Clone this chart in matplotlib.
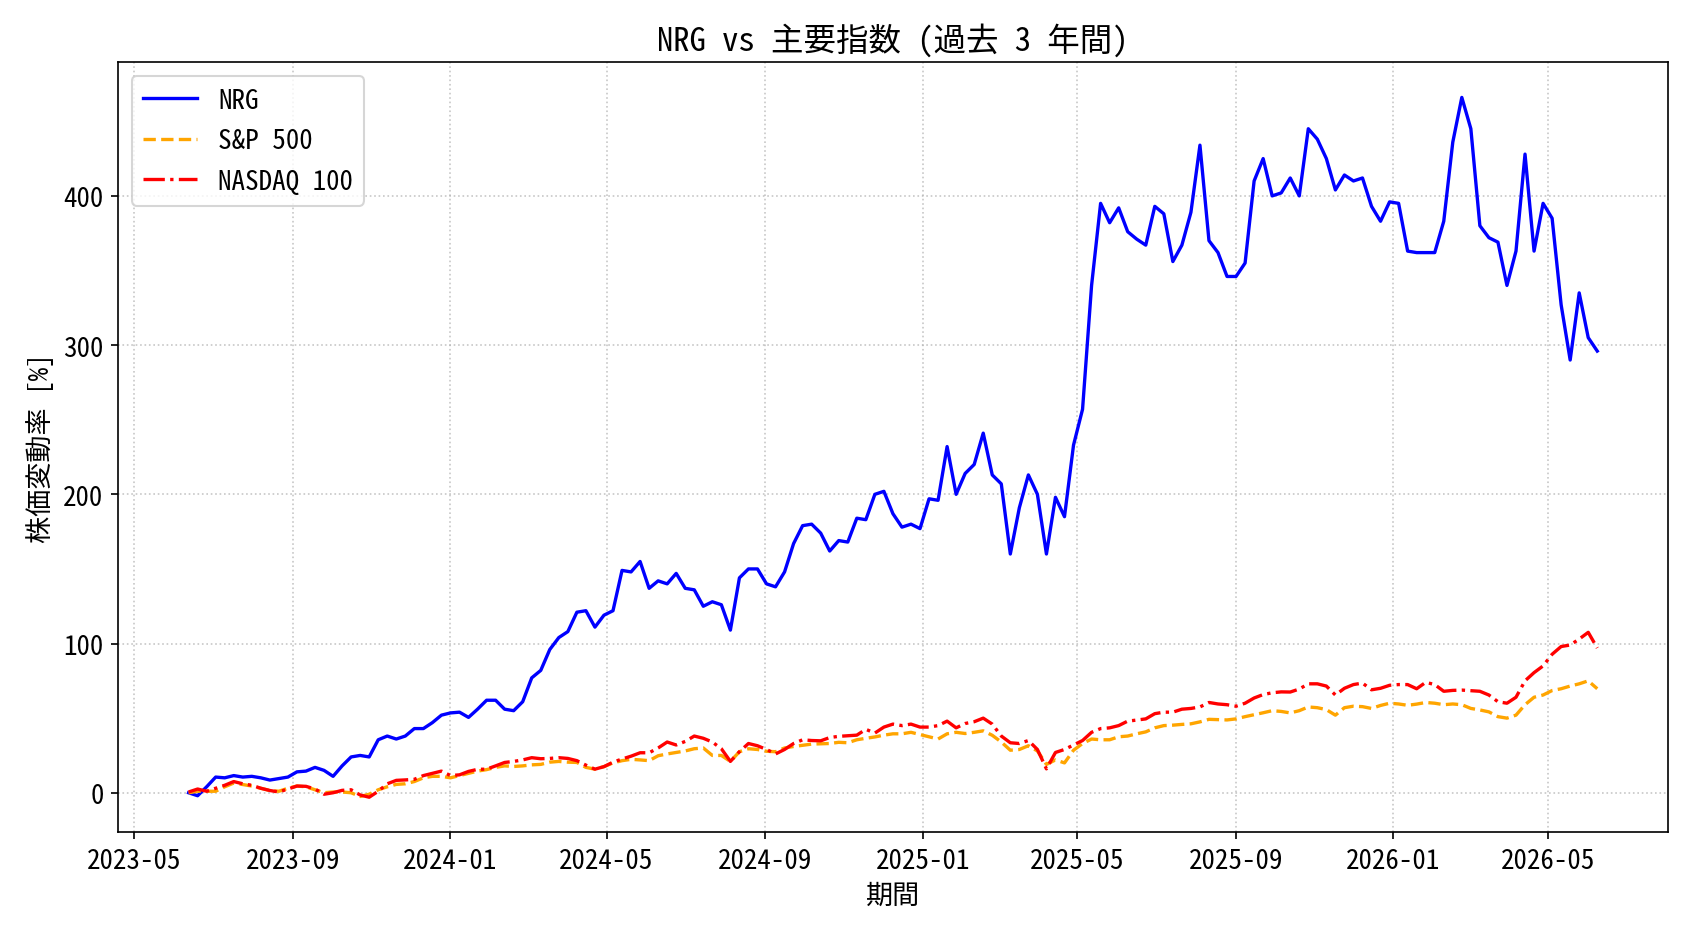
import matplotlib
matplotlib.use("Agg")
import matplotlib.pyplot as plt
import matplotlib.dates as mdates
import pandas as pd

plt.rcParams['font.family'] = ['Noto Sans Mono CJK JP', 'Noto Sans CJK JP', 'DejaVu Sans']
plt.rcParams['font.size'] = 13

# weekly samples (cumulative % change since start)
dates = pd.date_range("2023-06-12", periods=157, freq="7D")

nrg = [
    0, -2, 4, 10.5, 10, 11.5, 10.5, 11, 10, 8.5,
    9.5, 10.5, 14, 14.5, 17, 15, 11, 18, 24, 25,
    24, 35.5, 38, 36, 38, 43, 43, 47, 52, 53.5,
    54, 50.5, 56, 62, 62, 56, 55, 61, 77, 82,
    96, 104, 108, 121, 122, 111, 119, 122, 149, 148,
    155, 137, 142, 140, 147, 137, 136, 125, 128, 126,
    109, 144, 150, 150, 140, 138, 148, 167, 179, 180,
    174, 162, 169, 168, 184, 183, 200, 202, 187, 178,
    180, 177, 197, 196, 232, 200, 214, 220, 241, 213,
    207, 160, 191, 213, 200, 160, 198, 185, 233, 257,
    340, 395, 382, 392, 376, 371, 367, 393, 388, 356,
    367, 389, 434, 370, 362, 346, 346, 355, 410, 425,
    400, 402, 412, 400, 445, 438, 425, 404, 414, 410,
    412, 393, 383, 396, 395, 363, 362, 362, 362, 383,
    436, 466, 445, 380, 372, 369, 340, 363, 428, 363,
    395, 385, 327, 290, 335, 305, 296,
]

sp500 = [
    0, 1, 1, 1, 4, 6.5, 5.5, 4.5, 3, 1.5,
    1, 3, 4.5, 4, 2, 0, 0.5, 0.5, 0, -2.5,
    -1, 2, 4, 5.6, 6, 7.5, 10, 11, 11, 10,
    11.5, 13, 14.5, 15.5, 17, 18, 17.6, 18, 18.7, 19,
    20.5, 21, 20.5, 20.3, 17, 15.8, 17.5, 20, 21.5, 22.4,
    22, 21.5, 24.8, 26, 27, 28, 29.5, 30, 25, 25,
    21, 27.5, 29.5, 29, 27.8, 27.5, 30, 31, 31.8, 32.6,
    32.8, 33, 33.8, 33.5, 35.5, 36.5, 37.4, 38.6, 39.5, 39.5,
    40.5, 39, 37.5, 36, 39.5, 40.5, 39.7, 40.5, 41.5, 38.5,
    34, 28.5, 29, 31.5, 28, 19, 22, 20, 28.5, 33,
    36, 35.5, 35.5, 37.5, 38, 39.5, 40.8, 43.5, 45, 45.3,
    45.8, 46.2, 47.5, 49.2, 49, 48.8, 49.5, 51, 52.3, 53.6,
    55, 54.5, 53.5, 55, 57.5, 57, 55.7, 52, 57, 58,
    57.7, 56.5, 58.5, 60, 59.5, 58.6, 59.4, 60.5, 60, 59,
    59.5, 59, 56.5, 55.5, 54.2, 51, 50, 52, 59, 64,
    65.5, 68.5, 69.7, 71.5, 73, 75, 69.7,
]

nasdaq100 = [
    0.5, 2.5, 1, 3, 5, 7.5, 6, 5, 3, 1.5,
    0.5, 2.5, 4.5, 4.3, 2.5, -1, 0, 1.6, 2, -1.5,
    -3, 1, 6, 8.3, 8.6, 9, 11.5, 13, 14.5, 11.5,
    12, 14.3, 15.7, 15.8, 18, 20.3, 21, 22, 23.5, 22.8,
    23, 23.5, 23, 21.5, 18.5, 15.8, 17.5, 20.5, 22.6, 24.5,
    26.8, 26.8, 30, 34, 32, 34.4, 38, 36.5, 34, 29.5,
    21, 27.5, 33, 31.5, 29, 26, 29, 33, 35.5, 35,
    34.8, 37, 37.8, 38.2, 38.6, 42.5, 40, 44, 46, 45,
    46, 44, 44, 45, 48, 43.5, 46.4, 47.6, 50, 46,
    38, 33.5, 33, 35, 29, 16, 27, 29, 32, 35,
    40.5, 43, 43.5, 45, 48, 48.7, 49.5, 53, 54, 54,
    56, 56.5, 57.5, 60.5, 59.5, 59, 58, 60, 63.5, 65.8,
    67, 67.6, 67.5, 69.5, 73, 73, 71.5, 65.5, 70, 72.5,
    73.5, 69, 70, 72, 72.5, 72.5, 69.7, 74, 72.5, 68,
    68.6, 68.8, 68.4, 68, 65.5, 61, 60, 64, 75, 80.5,
    85, 92.8, 98, 99, 103, 107.5, 97,
]

fig = plt.figure(figsize=(11.253, 6.213), dpi=150)
ax = fig.add_axes([0.070, 0.106, 0.918, 0.826])

ax.plot(dates, nrg, color='blue', linestyle='-', linewidth=1.6, label='NRG')
ax.plot(dates, sp500, color='orange', linestyle='--', linewidth=1.6, label='S&P 500')
ax.plot(dates, nasdaq100, color='red', linestyle='-.', linewidth=1.6, label='NASDAQ 100')

ax.xaxis.set_major_locator(mdates.MonthLocator(bymonth=[1, 5, 9]))
ax.xaxis.set_major_formatter(mdates.DateFormatter('%Y-%m'))

ax.set_title('NRG vs 主要指数 (過去 3 年間)')
ax.set_xlabel('期間')
ax.set_ylabel('株価変動率 [%]')
ax.grid(True, linestyle=':', alpha=0.7)
ax.legend(loc='upper left')

fig.savefig('out.png', dpi=150)
